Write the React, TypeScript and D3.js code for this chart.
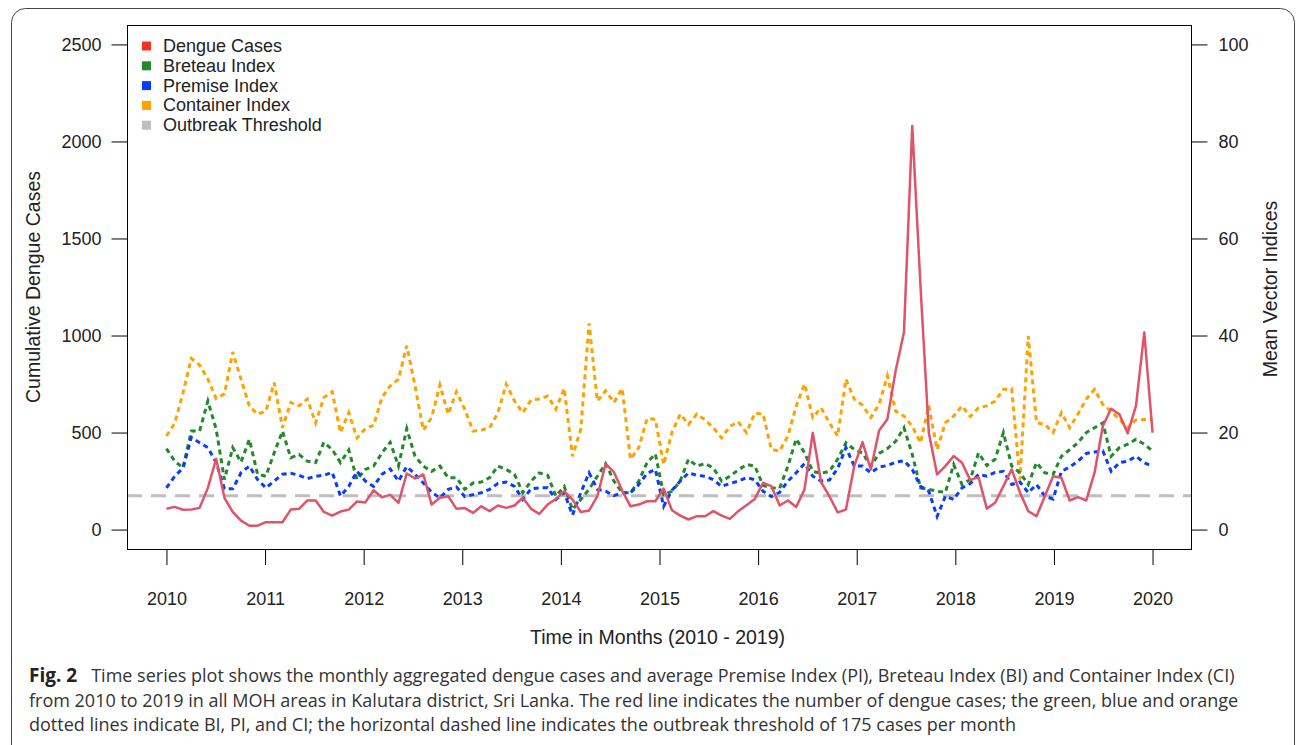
import React, { useEffect, useRef } from 'react';
import * as d3 from 'd3';

// monthly values, Jan 2010 .. Dec 2019
const dengueCases = [
  107, 117, 102, 104, 112, 215, 365, 164, 91, 46, 20, 20,
  38, 38, 38, 103, 107, 150, 150, 91, 72, 93, 103, 145,
  140, 203, 167, 179, 138, 289, 263, 284, 129, 164, 172, 107,
  111, 86, 120, 95, 124, 112, 124, 164, 107, 81, 129, 158,
  198, 155, 91, 98, 172, 339, 296, 201, 120, 129, 146, 146,
  212, 100, 72, 52, 69, 69, 95, 72, 55, 95, 126, 158,
  241, 224, 124, 150, 116, 207, 499, 244, 172, 89, 103, 327,
  451, 310, 511, 568, 820, 1015, 2080, 1250, 499, 284, 327, 379,
  344, 255, 270, 108, 138, 224, 310, 191, 95, 69, 172, 275,
  267, 150, 167, 150, 293, 534, 623, 594, 496, 637, 1016, 499,
];
const breteauIndex = [
  16.7, 14.1, 12.7, 20.3, 20.3, 26.5, 20.7, 10.3, 16.9, 13.9, 18.6, 11.4,
  11.0, 15.8, 20.3, 14.8, 15.5, 14.1, 13.8, 18.0, 16.5, 13.8, 16.4, 10.3,
  12.4, 13.1, 15.8, 18.0, 13.1, 20.8, 15.1, 13.1, 12.0, 13.1, 10.7, 10.7,
  8.3, 9.6, 9.8, 10.7, 13.1, 12.4, 11.4, 7.6, 10.0, 11.7, 11.2, 6.9,
  8.9, 4.1, 6.2, 8.3, 11.0, 13.6, 10.0, 7.6, 7.6, 10.0, 13.8, 15.6,
  7.2, 7.9, 10.0, 14.5, 13.1, 13.6, 12.7, 10.0, 11.0, 12.3, 13.4, 13.1,
  9.1, 8.6, 8.5, 13.1, 18.7, 15.8, 12.0, 11.6, 12.0, 14.5, 17.9, 16.5,
  15.8, 13.1, 15.7, 16.7, 18.2, 21.0, 15.5, 8.6, 8.3, 7.9, 7.7, 13.4,
  9.3, 10.3, 15.8, 13.2, 14.5, 20.0, 13.1, 11.7, 9.3, 13.8, 11.7, 11.4,
  15.1, 16.5, 17.9, 20.0, 21.0, 22.0, 15.1, 16.9, 17.6, 18.6, 17.6, 16.2,
];
const premiseIndex = [
  8.6, 11.0, 12.7, 19.0, 17.9, 16.9, 13.8, 8.4, 8.4, 11.7, 13.1, 10.3,
  8.6, 10.0, 11.4, 11.6, 11.2, 10.5, 11.0, 11.2, 11.8, 6.9, 8.9, 12.0,
  10.0, 8.9, 11.4, 12.5, 10.0, 13.0, 11.4, 9.6, 7.7, 6.5, 8.3, 8.8,
  6.8, 7.2, 7.6, 8.3, 9.5, 9.8, 8.9, 6.2, 8.4, 8.6, 8.6, 6.2,
  7.6, 3.0, 7.6, 11.7, 8.3, 7.9, 7.0, 7.6, 7.6, 9.3, 11.6, 12.4,
  4.8, 8.1, 10.0, 11.7, 11.2, 11.0, 10.3, 8.9, 9.5, 10.0, 10.7, 10.3,
  7.9, 6.8, 7.7, 10.0, 11.7, 13.6, 11.0, 10.0, 10.2, 12.6, 16.9, 13.1,
  13.1, 11.7, 12.9, 13.2, 13.9, 14.2, 12.4, 8.9, 7.9, 2.7, 6.9, 6.2,
  8.6, 9.5, 11.4, 11.0, 11.8, 12.0, 9.3, 9.8, 7.6, 9.3, 6.9, 6.3,
  12.0, 12.9, 14.1, 15.7, 16.0, 16.2, 12.0, 13.8, 14.1, 15.1, 13.8, 13.0,
];
const containerIndex = [
  19.3, 21.9, 28.2, 35.3, 33.9, 31.0, 27.0, 28.0, 36.6, 31.0, 25.5, 23.8,
  24.4, 30.3, 21.0, 26.2, 25.5, 26.9, 22.0, 27.2, 28.4, 20.0, 24.1, 18.9,
  20.8, 21.5, 27.2, 29.6, 31.0, 37.9, 29.6, 20.5, 23.1, 29.8, 23.8, 28.4,
  24.8, 20.3, 20.5, 21.0, 24.1, 30.0, 26.5, 24.1, 26.7, 26.9, 27.5, 24.8,
  29.1, 15.1, 20.7, 42.5, 26.5, 28.6, 26.2, 29.1, 14.5, 16.9, 22.9, 22.7,
  13.4, 20.0, 23.8, 21.7, 23.8, 22.6, 21.0, 18.9, 21.3, 22.2, 20.0, 24.0,
  23.8, 16.5, 16.2, 19.3, 25.5, 30.0, 23.1, 25.1, 22.0, 19.3, 31.0, 26.9,
  25.6, 23.1, 25.8, 31.7, 24.4, 23.4, 21.3, 17.9, 25.5, 16.5, 22.0, 23.4,
  25.5, 23.3, 25.1, 25.5, 26.5, 28.9, 29.0, 10.3, 39.9, 22.0, 21.7, 20.0,
  24.1, 21.0, 23.8, 26.9, 28.9, 25.8, 24.4, 22.7, 21.0, 22.6, 22.7, 22.7,
];
const outbreakThreshold = 175;

const yearTicks = [2010, 2011, 2012, 2013, 2014, 2015, 2016, 2017, 2018, 2019, 2020];
const caseTicks = [0, 500, 1000, 1500, 2000, 2500];
const indexTicks = [0, 20, 40, 60, 80, 100];

const legendItems = [
  { label: 'Dengue Cases', color: '#f5321e' },
  { label: 'Breteau Index', color: '#23892a' },
  { label: 'Premise Index', color: '#0a3cff' },
  { label: 'Container Index', color: '#ffa200' },
  { label: 'Outbreak Threshold', color: '#bebebe' },
];

const captionLines = [
  'Time series plot shows the monthly aggregated dengue cases and average Premise Index (PI), Breteau Index (BI) and Container Index (CI)',
  'from 2010 to 2019 in all MOH areas in Kalutara district, Sri Lanka. The red line indicates the number of dengue cases; the green, blue and orange',
  'dotted lines indicate BI, PI, and CI; the horizontal dashed line indicates the outbreak threshold of 175 cases per month',
];

export default function App() {
  const ref = useRef<SVGSVGElement>(null);

  useEffect(() => {
    const svg = d3.select(ref.current);
    svg.selectAll('*').remove();
    const W = 1296, H = 745;
    const box = { left: 127, right: 1192, top: 25, bottom: 549 };
    const font = '"Liberation Sans", Arial, Helvetica, sans-serif';

    // outer frame of the figure
    svg.append('rect').attr('x', 11.5).attr('y', 8.5).attr('width', W - 13).attr('height', H + 20)
      .attr('rx', 14).attr('fill', '#fff').attr('stroke', '#444').attr('stroke-width', 1);

    const n = dengueCases.length;
    const t = (i: number) => 2010 + (i * 10) / (n - 1);
    // R style 4% padding on each axis
    const x = d3.scaleLinear().domain([2010 - 0.4, 2020 + 0.4]).range([box.left, box.right]);
    const yL = d3.scaleLinear().domain([-100, 2600]).range([box.bottom, box.top]);
    const yR = d3.scaleLinear().domain([-4, 104]).range([box.bottom, box.top]);

    const g = svg.append('g');

    // threshold
    g.append('line')
      .attr('x1', box.left).attr('x2', box.right)
      .attr('y1', yL(outbreakThreshold)).attr('y2', yL(outbreakThreshold))
      .attr('stroke', '#bebebe').attr('stroke-width', 3).attr('stroke-dasharray', '15,9');

    const idxLine = d3.line<number>().x((d, i) => x(t(i))).y(d => yR(d));
    const dotted = [
      { data: containerIndex, color: '#ffa200' },
      { data: breteauIndex, color: '#23892a' },
      { data: premiseIndex, color: '#0a3cff' },
    ];
    dotted.forEach(s => {
      g.append('path').attr('d', idxLine(s.data))
        .attr('fill', 'none').attr('stroke', s.color).attr('stroke-width', 3)
        .attr('stroke-dasharray', '5,4');
    });

    const caseLine = d3.line<number>().x((d, i) => x(t(i))).y(d => yL(d));
    g.append('path').attr('d', caseLine(dengueCases))
      .attr('fill', 'none').attr('stroke', '#df536b').attr('stroke-width', 2.5)
      .attr('stroke-linejoin', 'round');

    // plot box
    svg.append('rect').attr('x', box.left + 0.5).attr('y', box.top + 0.5)
      .attr('width', box.right - box.left - 1).attr('height', box.bottom - box.top)
      .attr('fill', 'none').attr('stroke', '#000').attr('stroke-width', 1);

    // axes
    const left = svg.append('g').attr('transform', `translate(${box.left + 0.5},0)`)
      .call(d3.axisLeft(yL).tickValues(caseTicks).tickFormat(d3.format('d')).tickSize(16).tickPadding(10));
    const right = svg.append('g').attr('transform', `translate(${box.right - 0.5},0)`)
      .call(d3.axisRight(yR).tickValues(indexTicks).tickFormat(d3.format('d')).tickSize(16).tickPadding(11));
    const bottom = svg.append('g').attr('transform', `translate(0,${box.bottom})`)
      .call(d3.axisBottom(x).tickValues(yearTicks).tickFormat(d3.format('d')).tickSize(16).tickPadding(27));
    [left, right, bottom].forEach(a => {
      a.attr('font-family', null).attr('font-size', null);
      a.select('.domain').remove();
      a.selectAll('text').style('font-family', font).style('font-size', '18px').attr('fill', '#222');
      a.selectAll('line').attr('stroke', '#000');
    });

    const label = (tr: string, s: string) =>
      svg.append('text').attr('transform', tr).attr('text-anchor', 'middle')
        .style('font-family', font).style('font-size', '19.5px').attr('fill', '#222').text(s);
    label('translate(40,287) rotate(-90)', 'Cumulative Dengue Cases');
    label('translate(1277,289) rotate(-90)', 'Mean Vector Indices');
    label(`translate(${(box.left + box.right) / 2 - 2},644)`, 'Time in Months (2010 - 2019)');

    // legend
    const leg = svg.append('g').attr('transform', 'translate(142,46)');
    legendItems.forEach((d, i) => {
      const row = leg.append('g').attr('transform', `translate(0,${i * 19.8})`);
      row.append('rect').attr('x', 0).attr('y', -4.5).attr('width', 9).attr('height', 9).attr('fill', d.color);
      row.append('text').attr('x', 21).attr('y', 6).style('font-family', font).style('font-size', '18px')
        .attr('fill', '#222').text(d.label);
    });

    // caption
    const cap = svg.append('g').style('font-family', '"Open Sans", "Noto Sans", sans-serif')
      .style('font-size', '18px').attr('fill', '#333');
    captionLines.forEach((line, i) => {
      const txt = cap.append('text').attr('x', 29).attr('y', 682 + i * 24.5);
      if (i === 0) {
        txt.append('tspan').attr('font-weight', 'bold').style('font-size', '19px').attr('fill', '#222').text('Fig. 2');
        txt.append('tspan').attr('dx', 14).text(line);
      } else {
        txt.text(line);
      }
    });
  }, []);

  return (
    <svg ref={ref} width={1296} height={745}
      style={{ position: 'absolute', left: 0, top: 0, background: '#fff' }} />
  );
}
